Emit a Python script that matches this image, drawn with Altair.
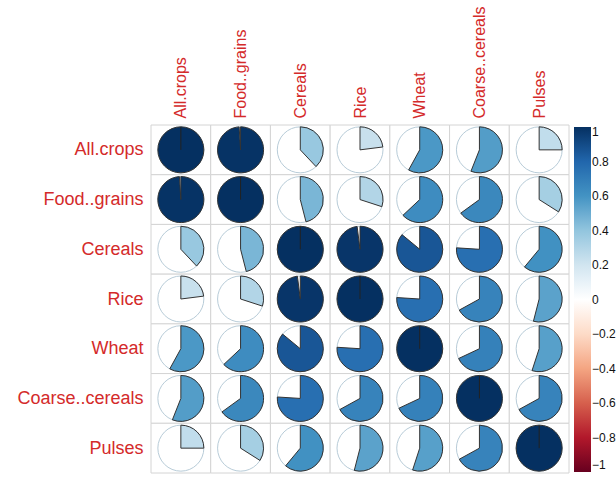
import altair as alt
import pandas as pd

# Variable names (rows and columns of the correlation matrix)
names = ["All.crops", "Food..grains", "Cereals", "Rice", "Wheat", "Coarse..cereals", "Pulses"]

# Correlation coefficients, one list per row
r_all_crops = [1.00, 0.99, 0.38, 0.23, 0.58, 0.56, 0.25]
r_food_grains = [0.99, 1.00, 0.46, 0.30, 0.63, 0.65, 0.34]
r_cereals = [0.38, 0.46, 1.00, 0.98, 0.86, 0.76, 0.61]
r_rice = [0.23, 0.30, 0.98, 1.00, 0.76, 0.67, 0.54]
r_wheat = [0.58, 0.63, 0.86, 0.76, 1.00, 0.68, 0.55]
r_coarse = [0.56, 0.65, 0.76, 0.67, 0.68, 1.00, 0.67]
r_pulses = [0.25, 0.34, 0.61, 0.54, 0.55, 0.67, 1.00]

matrix = [r_all_crops, r_food_grains, r_cereals, r_rice, r_wheat, r_coarse, r_pulses]

# Diverging red-blue palette, -1 .. 1
palette = ["#67001F", "#B2182B", "#D6604D", "#F4A582", "#FDDBC7", "#FFFFFF",
           "#D1E5F0", "#92C5DE", "#4393C3", "#2166AC", "#053061"]
palette_stops = [-1, -0.8, -0.6, -0.4, -0.2, 0, 0.2, 0.4, 0.6, 0.8, 1]

legend_values = [1, 0.8, 0.6, 0.4, 0.2, 0, -0.2, -0.4, -0.6, -0.8, -1]

rows = []
for i, row in enumerate(matrix):
    for j, r in enumerate(row):
        rows.append({"row": i + 1, "col": j + 1, "r": r})
df = pd.DataFrame(rows)

label_array = "[" + ",".join("'" + n + "'" for n in names) + "]"
label_expr = label_array + "[datum.value - 1]"

RED = "#d42a2a"
FONT = "Liberation Sans"
R = 23

x_scale = alt.Scale(domain=[0.5, 7.5], nice=False, zero=False)
y_scale = alt.Scale(domain=[0.5, 7.5], nice=False, zero=False, reverse=True)

x_axis = alt.Axis(orient="top", values=list(range(1, 8)), labelExpr=label_expr,
                  labelAngle=270, labelFontSize=16, labelColor=RED, labelFont=FONT,
                  labelPadding=7, domain=False, ticks=False, grid=False, title=None)
y_axis = alt.Axis(orient="left", values=list(range(1, 8)), labelExpr=label_expr,
                  labelFontSize=18, labelColor=RED, labelFont=FONT,
                  labelPadding=8, domain=False, ticks=False, grid=False, title=None)

base = alt.Chart(df)

# Grid cells
cells = base.mark_rect(fill="white", stroke="#d4d4d4", strokeWidth=1).transform_calculate(
    x0="datum.col - 0.5", x1="datum.col + 0.5",
    y0="datum.row - 0.5", y1="datum.row + 0.5",
).encode(
    x=alt.X("x0:Q", scale=x_scale, axis=x_axis),
    x2="x1:Q",
    y=alt.Y("y0:Q", scale=y_scale, axis=y_axis),
    y2="y1:Q",
)

# Light outline of every pie
outline = base.mark_arc(radius=R, fill="white", fillOpacity=0, stroke="#b8ccd8",
                        strokeWidth=1).transform_calculate(
    a0="0", a1="2 * PI",
).encode(
    x=alt.X("col:Q", scale=x_scale),
    y=alt.Y("row:Q", scale=y_scale),
    theta=alt.Theta("a0:Q", scale=None),
    theta2="a1:Q",
)

# Filled wedge, clockwise from 12 o'clock, proportional to r
wedges = base.mark_arc(radius=R, stroke="#333333", strokeWidth=1).transform_calculate(
    a0="0", a1="datum.r * 2 * PI",
).encode(
    x=alt.X("col:Q", scale=x_scale),
    y=alt.Y("row:Q", scale=y_scale),
    theta=alt.Theta("a0:Q", scale=None),
    theta2="a1:Q",
    color=alt.Color("r:Q", scale=alt.Scale(domain=palette_stops, range=palette,
                                           interpolate="rgb"),
                    legend=alt.Legend(orient="none", legendX=423, legendY=2,
                                      direction="vertical", gradientLength=345,
                                      gradientThickness=17, gradientStrokeWidth=0,
                                      values=legend_values, format="~g",
                                      labelFontSize=12, labelFont=FONT,
                                      labelColor="#111111", labelOffset=1,
                                      title=None)),
)

# Radial edge of the full pies
edges = base.mark_rule(color="#222222", strokeWidth=1).transform_filter(
    "datum.r >= 1"
).transform_calculate(
    ytop="datum.row - 0.46",
).encode(
    x=alt.X("col:Q", scale=x_scale),
    y=alt.Y("row:Q", scale=y_scale),
    y2="ytop:Q",
)

chart = alt.layer(cells, outline, wedges, edges).properties(
    width=418, height=348,
    autosize=alt.AutoSizeParams(type="none"),
    padding={"left": 151, "top": 125, "right": 47, "bottom": 8},
    background="white",
).configure_view(stroke=None)

chart.save("out.html", embed_options={"renderer": "svg", "actions": False})
